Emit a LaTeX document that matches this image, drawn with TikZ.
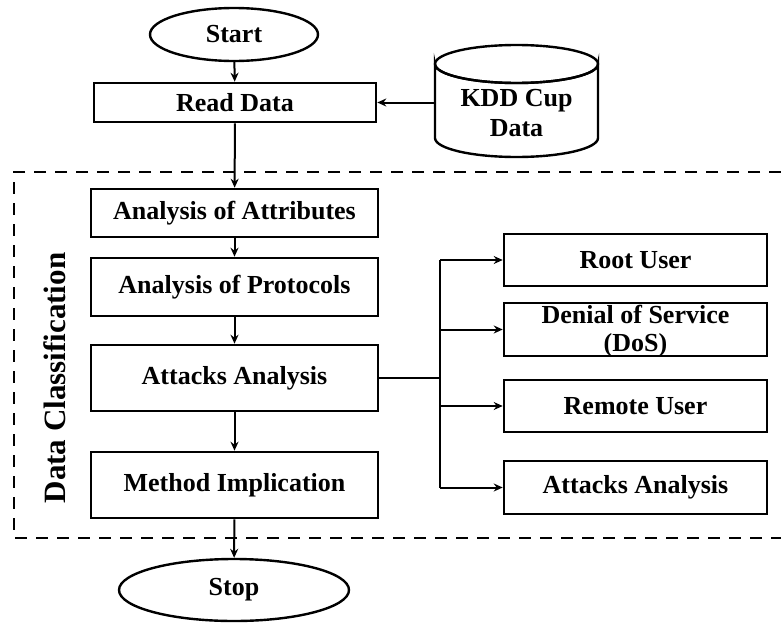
\documentclass[tikz,border=0pt]{standalone}
\usepackage{fontspec}
\setmainfont{Liberation Serif}
\usetikzlibrary{arrows.meta,shapes.geometric}
\begin{document}
\begin{tikzpicture}[x=1pt,y=-1pt,
  txt/.style={font=\fontsize{26}{30}\selectfont\bfseries},
  box/.style={draw,line width=2.6pt,rectangle,inner sep=0pt,txt,align=center},
  term/.style={draw,line width=2.4pt,ellipse,inner sep=0pt,txt},
  conn/.style={line width=2pt,-{Stealth[length=9pt,width=8pt]}},
  plain/.style={line width=2pt},
  frame/.style={line width=2.6pt,dash pattern=on 12pt off 9pt}
]
\useasboundingbox (0,0) rectangle (781,624);

% terminals
\node[term,minimum width=168pt,minimum height=53pt] (start) at (234,34.5) {Start};
\node[term,minimum width=230pt,minimum height=62pt] (stop) at (234,590) {Stop};

% main column
\node[box,minimum width=282pt,minimum height=39pt] (read) at (235,102.5) {Read Data};
\node[box,minimum width=287pt,minimum height=48pt] (attr) at (234.5,213) {Analysis of Attributes};
\node[box,minimum width=287pt,minimum height=58pt] (prot) at (234.5,287) {Analysis of Protocols};
\node[box,minimum width=287pt,minimum height=66pt] (att) at (234.5,378) {Attacks Analysis};
\node[box,minimum width=287pt,minimum height=66pt] (meth) at (234.5,485) {Method Implication};

% right column
\node[box,minimum width=263pt,minimum height=52pt] (root) at (635.5,260) {Root User};
\node[box,minimum width=263pt,minimum height=53pt] (dos) at (635.5,329.5) {};
\node[txt,align=center,inner sep=0pt,font=\fontsize{26}{28}\selectfont\bfseries] (doslabel) at (635.5,331.5) {Denial of Service\\(DoS)};
\node[box,minimum width=263pt,minimum height=52pt] (rem) at (635.5,406) {Remote User};
\node[box,minimum width=263pt,minimum height=53pt] (aa2) at (635.5,487.5) {Attacks Analysis};

% database cylinder
\draw[line width=2.4pt,fill=white]
  (435,64) -- (435,138) arc[start angle=180,end angle=360,x radius=81.5pt,y radius=19pt]
  -- (598,64) arc[start angle=0,end angle=-180,x radius=81.5pt,y radius=19pt] -- cycle;
\draw[line width=2.4pt] (516.5,64) ellipse[x radius=81.5pt,y radius=19pt];
\node[txt,align=center] (kdd) at (516.5,113) {KDD Cup\\Data};
\coordinate (cylL) at (435,102.5);

% dashed frame
\draw[frame] (781,172) -- (14,172) -- (14,538) -- (781,538);
\node[rotate=90,font=\fontsize{31}{35}\selectfont\bfseries] (dc) at (55,378) {Data Classification};

% connectors
\draw[conn] (start) -- (read);
\draw[conn] (cylL) -- (read.east);
\draw[conn] (read) -- (attr);
\draw[conn] (attr) -- (prot);
\draw[conn] (prot) -- (att);
\draw[conn] (att) -- (meth);
\draw[conn] (meth) -- (stop);

\coordinate (br) at (440,378);
\draw[plain] (att.east) -- (br);
\draw[plain] (br |- root.west) -- (br |- aa2.west);
\draw[conn] (br |- root.west) -- (root.west);
\draw[conn] (br |- dos.west) -- (dos.west);
\draw[conn] (br |- rem.west) -- (rem.west);
\draw[conn] (br |- aa2.west) -- (aa2.west);
\end{tikzpicture}
\end{document}
